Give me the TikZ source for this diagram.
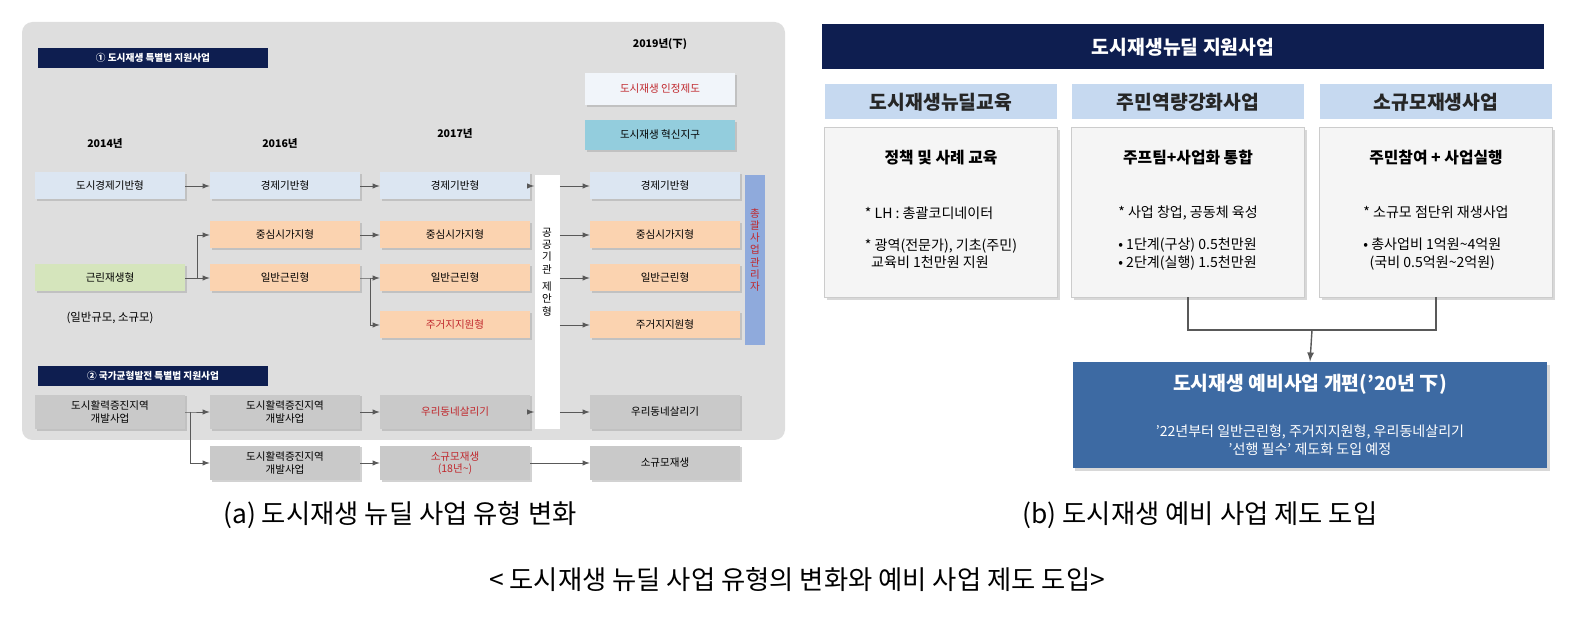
\documentclass[tikz,border=0pt]{standalone}
\usepackage{fontspec}
\setmainfont{Noto Sans CJK KR}
\usetikzlibrary{shadows}
\definecolor{panelgray}{HTML}{DEDEDE}
\definecolor{navy}{HTML}{0E1E50}
\definecolor{paleblue}{HTML}{DCE6F2}
\definecolor{paleorange}{HTML}{FBD3B0}
\definecolor{palegreen}{HTML}{D5E5BC}
\definecolor{boxgray}{HTML}{C9C9C9}
\definecolor{sideblue}{HTML}{8FAADC}
\definecolor{cyanbox}{HTML}{93CDDD}
\definecolor{subblue}{HTML}{C6D9F0}
\definecolor{darkblue}{HTML}{3D6AA3}
\definecolor{redtxt}{HTML}{C0282D}
\tikzset{
  cell/.style={minimum width=3cm, minimum height=0.54cm, inner sep=1pt, align=center,
    font=\fontsize{6}{7}\selectfont, drop shadow={shadow xshift=1pt, shadow yshift=-1pt, fill=gray!70}},
  blue cell/.style={cell, fill=paleblue},
  orange cell/.style={cell, fill=paleorange},
  gray cell/.style={cell, fill=boxgray, minimum height=0.7cm},
  header/.style={fill=navy, text=white, minimum width=4.6cm, minimum height=0.4cm,
    inner sep=0pt, font=\fontsize{5.5}{6}\selectfont\bfseries},
  year/.style={font=\fontsize{6}{7}\selectfont\bfseries},
  link/.style={->, >=latex, gray!70!black, thin},
  subhead/.style={fill=subblue, minimum width=4.66cm, minimum height=0.7cm,
    font=\fontsize{11}{12}\selectfont\bfseries, text=black!85},
  content/.style={fill=gray!8, draw=gray!40, minimum width=4.66cm, minimum height=3.4cm,
    drop shadow={shadow xshift=1.5pt, shadow yshift=-1.5pt, fill=gray!60}},
  caption/.style={font=\fontsize{15}{18}\selectfont}
}
\begin{document}
\begin{tikzpicture}[x=0.02cm, y=-0.02cm]
% left panel
\fill[panelgray, rounded corners=6pt] (22,22) rectangle (785,440);
\node[header] (h1) at (153,58) {① 도시재생 특별법 지원사업};
\node[year] (y14) at (105,143) {2014년};
\node[year] (y16) at (280,143) {2016년};
\node[year] (y17) at (455,133) {2017년};
\node[year] (y19) at (660,44) {2019년(下)};
\node[cell, fill=paleblue!40, text=redtxt, minimum height=0.64cm] (cert) at (660,89) {도시재생 인정제도};
\node[cell, fill=cyanbox, minimum height=0.6cm] (innov) at (660,135) {도시재생 혁신지구};
% columns
\node[blue cell] (a1) at (110,186) {도시경제기반형};
\node[cell, fill=palegreen] (a3) at (110,278) {근린재생형};
\node[font=\fontsize{6.5}{7}\selectfont] (a3n) at (110,318) {(일반규모, 소규모)};
\node[blue cell] (b1) at (285,186) {경제기반형};
\node[orange cell] (b2) at (285,235) {중심시가지형};
\node[orange cell] (b3) at (285,278) {일반근린형};
\node[blue cell] (c1) at (455,186) {경제기반형};
\node[orange cell] (c2) at (455,235) {중심시가지형};
\node[orange cell] (c3) at (455,278) {일반근린형};
\node[orange cell, text=redtxt] (c4) at (455,325) {주거지지원형};
\node[blue cell] (d1) at (665,186) {경제기반형};
\node[orange cell] (d2) at (665,235) {중심시가지형};
\node[orange cell] (d3) at (665,278) {일반근린형};
\node[orange cell] (d4) at (665,325) {주거지지원형};
\node[fill=white, minimum width=0.5cm, minimum height=5.1cm, inner sep=0pt] (pub) at (547,302) {};
\node[font=\fontsize{6}{7}\selectfont, align=center] (pubt) at (547,272) {공\\공\\기\\관\\[3pt]제\\안\\형};
\node[fill=sideblue, minimum width=0.4cm, minimum height=3.4cm, inner sep=0pt] (mgr) at (755,260) {};
\node[text=redtxt, font=\fontsize{6}{7}\selectfont, align=center] (mgrt) at (755,250) {총\\괄\\사\\업\\관\\리\\자};
\node[header] (h2) at (153,376) {② 국가균형발전 특별법 지원사업};
\node[gray cell] (e1) at (110,412) {도시활력증진지역\\개발사업};
\node[gray cell] (e2) at (285,412) {도시활력증진지역\\개발사업};
\node[gray cell, text=redtxt] (e3) at (455,412) {우리동네살리기};
\node[gray cell] (e4) at (665,412) {우리동네살리기};
\node[gray cell] (f2) at (285,463) {도시활력증진지역\\개발사업};
\node[gray cell, text=redtxt] (f3) at (455,463) {소규모재생\\(18년\textasciitilde)};
\node[gray cell] (f4) at (665,463) {소규모재생};
% connectors
\draw[link] (a1) -- (b1);
\draw[link] (b1) -- (c1);
\draw[link] (c1.east) -- (pub.west |- c1);
\draw[link] (pub.east |- d1) -- (d1);
\draw[link] (a3.east) -- ++(12,0) coordinate (k1) |- (b2.west);
\draw[link] (k1) -- (b3.west);
\draw[link] (b2) -- (c2);
\draw[link] (b3.east) -- ++(10,0) coordinate (k2) -- (c3.west);
\draw[link] (k2) |- (c4.west);
\draw[link] (pub.east |- d2) -- (d2);
\draw[link] (pub.east |- d3) -- (d3);
\draw[link] (pub.east |- d4) -- (d4);
\draw[link] (e1.east) -- ++(5,0) coordinate (k3) -- (e2.west);
\draw[link] (k3) |- (f2.west);
\draw[link] (e2) -- (e3);
\draw[link] (e3.east) -- (pub.west |- e3);
\draw[link] (pub.east |- e4) -- (e4);
\draw[link] (f2) -- (f3);
\draw[link] (f3) -- (f4);
% right panel
\node[fill=navy, text=white, minimum width=14.46cm, minimum height=0.9cm,
  font=\fontsize{11}{12}\selectfont\bfseries] (title) at (1183,47) {도시재생뉴딜 지원사업};
\node[subhead] (s1) at (941,102) {도시재생뉴딜교육};
\node[subhead] (s2) at (1188,102) {주민역량강화사업};
\node[subhead] (s3) at (1436,102) {소규모재생사업};
\node[content] (k1b) at (941,212) {};
\node[content] (k2b) at (1188,212) {};
\node[content] (k3b) at (1436,212) {};
\node[font=\fontsize{9}{11}\selectfont\bfseries] (t1) at (941,158) {정책 및 사례 교육};
\node[font=\fontsize{8}{10}\selectfont, align=left] (t1b) at (941,238) {* LH : 총괄코디네이터\\[8pt]* 광역(전문가), 기초(주민)\\\ \ 교육비 1천만원 지원};
\node[font=\fontsize{9}{11}\selectfont\bfseries] (t2) at (1188,158) {주프팀+사업화 통합};
\node[font=\fontsize{8}{10}\selectfont, align=left] (t2b) at (1188,238) {* 사업 창업, 공동체 육성\\[8pt]• 1단계(구상) 0.5천만원\\• 2단계(실행) 1.5천만원};
\node[font=\fontsize{9}{11}\selectfont\bfseries] (t3) at (1436,158) {주민참여 + 사업실행};
\node[font=\fontsize{8}{10}\selectfont, align=left] (t3b) at (1436,238) {* 소규모 점단위 재생사업\\[8pt]• 총사업비 1억원\textasciitilde 4억원\\\ \ (국비 0.5억원\textasciitilde 2억원)};
\node[fill=darkblue, text=white, minimum width=9.5cm, minimum height=2.12cm,
  drop shadow={shadow xshift=1.5pt, shadow yshift=-1.5pt, fill=gray!60}] (pre) at (1310,415) {};
\node[text=white, font=\fontsize{11}{12}\selectfont\bfseries] (pret) at (1310,384) {도시재생 예비사업 개편('20년 下)};
\node[text=white, font=\fontsize{8}{10}\selectfont, align=center] (preb) at (1310,440) {'22년부터 일반근린형, 주거지지원형, 우리동네살리기\\'선행 필수' 제도화 도입 예정};
\draw[gray!70!black, thick] (k2b.south) |- (1312,330) coordinate (j) -| (k3b.south);
\draw[link, thick] (j) -- (pre.north);
% captions
\node[caption] (ca) at (400,515) {(a) 도시재생 뉴딜 사업 유형 변화};
\node[caption] (cb) at (1200,515) {(b) 도시재생 예비 사업 제도 도입};
\node[caption] (cc) at (797,580) {< 도시재생 뉴딜 사업 유형의 변화와 예비 사업 제도 도입>};
\pgfresetboundingbox
\useasboundingbox (0,0) rectangle (1595,617);
\end{tikzpicture}
\end{document}
